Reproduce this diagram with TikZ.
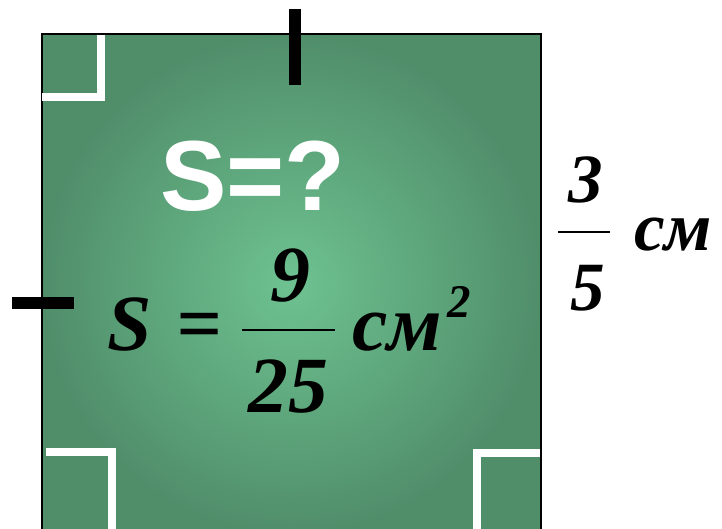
\documentclass[tikz,border=0pt]{standalone}
\usepackage{fontspec}
\setmainfont{Liberation Serif}
\newfontfamily\sansfnt{Liberation Sans}
\definecolor{gin}{RGB}{110,194,145}
\definecolor{gout}{RGB}{80,142,106}
\tikzset{
	corner/.style={draw=white, line width=6pt},
	tick/.style={draw=black, line width=10pt},
	bigf/.style={font=\bfseries\itshape\fontsize{68}{68}\selectfont, inner sep=0pt, anchor=base},
	sidef/.style={font=\bfseries\itshape\fontsize{59}{59}\selectfont, inner sep=0pt, anchor=base}
}
\begin{document}
\begin{tikzpicture}[x=0.03cm, y=-0.03cm]

\useasboundingbox (0,0) rectangle (722,529);
\clip (0,0) rectangle (722,529);
% the square
\shade[inner color=gin, outer color=gout] (42,34) rectangle (541,533);
\draw[line width=1.5pt] (42,533) -- (42,34) -- (541,34) -- (541,533);
% right angles
\draw[corner] (42,97) -- (101,97) -- (101,35);
\draw[corner] (46,452) -- (112,452) -- (112,535);
\draw[corner] (540,453) -- (477,453) -- (477,535);
% equal sides
\draw[tick] (295,9) -- (295,85);
\draw[tick] (12,303) -- (74,303);

\node[font=\sansfnt\bfseries\fontsize{85}{85}\selectfont, text=white, inner sep=0pt, anchor=base west] (ask) at (160,210) {S=?};

\node[bigf] (s) at (130,350) {S};
\node[bigf] (eq) at (199,350) {=};
\node[bigf] (num) at (290,301) {9};
\node[bigf] (den) at (288,412) {25};
\draw[line width=2.5pt] (242,330) -- (335,330);
\node[bigf, anchor=base west] (unit) at (352,350) {см};
\node[font=\bfseries\itshape\fontsize{40}{40}\selectfont, inner sep=0pt, anchor=base] (sq) at (459,317) {2};

\node[sidef] (a) at (586,202) {3};
\node[sidef] (b) at (588,310) {5};
\draw[line width=2.5pt] (558,232) -- (610,232);
\node[sidef, anchor=base west] (aunit) at (634,250) {см};

\end{tikzpicture}
\end{document}
